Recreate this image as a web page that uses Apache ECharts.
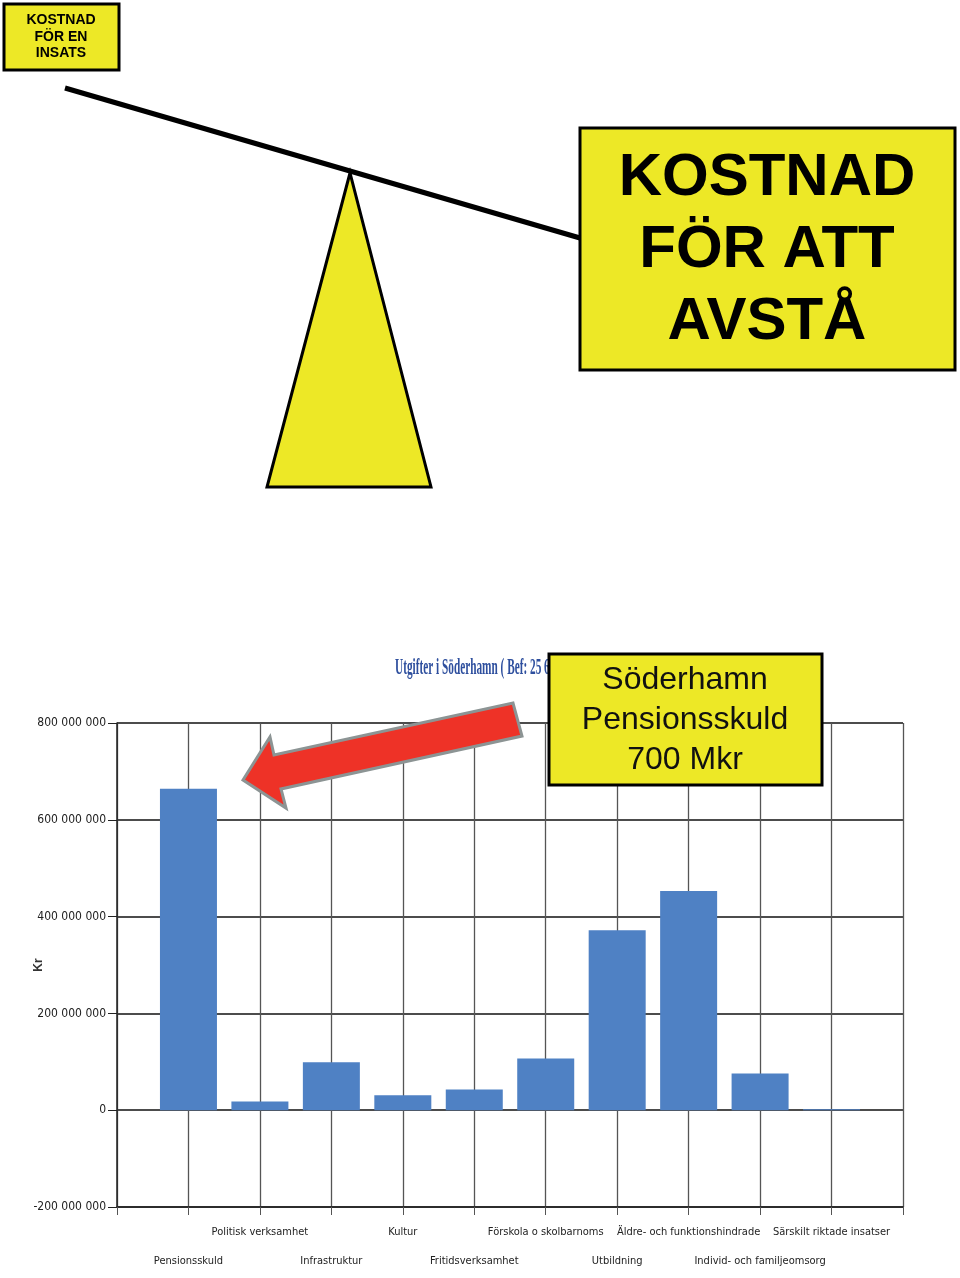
<!DOCTYPE html>
<html><head><meta charset="utf-8">
<script src="https://cdn.jsdelivr.net/npm/echarts@6/dist/echarts.min.js"></script>
<style>html,body{margin:0;padding:0;background:#fff}#c{width:960px;height:1278px}</style>
</head><body><div id="c"></div>
<script>
const categories = ['Pensionsskuld','Politisk verksamhet','Infrastruktur','Kultur','Fritidsverksamhet','Förskola o skolbarnoms','Utbildning','Äldre- och funktionshindrade','Individ- och familjeomsorg','Särskilt riktade insatser'];
const values = [664000000, 18000000, 99000000, 31000000, 43000000, 107000000, 372000000, 453000000, 76000000, 2000000];
const yTicks = { min: -200000000, max: 800000000, interval: 200000000 };
const chartTitle = 'Utgifter i Söderhamn ( Bef: 25 6';
const yName = 'Kr';

const xData = [''].concat(categories, ['']);
const yData = [null].concat(values, [null]);
const yellow = '#ede826';
const narrow = "'Liberation Sans Narrow','DejaVu Sans Condensed',sans-serif";

const chart = echarts.init(document.getElementById('c'));
chart.setOption({
  animation: false,
  backgroundColor: '#fff',
  grid: { left: 117, right: 57, top: 723, bottom: 71, containLabel: false },
  xAxis: {
    type: 'category', data: xData, boundaryGap: false,
    axisLine: { onZero: false, lineStyle: { color: '#222', width: 1.5 } },
    axisTick: { show: true, length: 8, lineStyle: { color: '#555' } },
    splitLine: { show: true, lineStyle: { color: '#555', width: 1.3 } },
    axisLabel: {
      interval: 0, margin: 11, color: '#222', fontSize: 11, fontFamily: narrow, lineHeight: 29,
      formatter: function (v, i) { return i % 2 === 1 ? '\n' + v : v; }
    }
  },
  yAxis: {
    type: 'value', min: yTicks.min, max: yTicks.max, interval: yTicks.interval,
    name: yName, nameLocation: 'middle', nameGap: 72, nameRotate: 90, nameMoveOverlap: false,
    nameTextStyle: { fontSize: 12, fontWeight: 'bold', color: '#333', fontFamily: 'Liberation Sans' },
    axisLine: { show: true, lineStyle: { color: '#222', width: 1.5 } },
    axisTick: { show: true, length: 9, lineStyle: { color: '#222' } },
    splitLine: { show: true, lineStyle: { color: '#111', width: 1.5 } },
    axisLabel: {
      margin: 11, color: '#222', fontSize: 12, fontFamily: narrow,
      formatter: function (v) { return String(v).replace(/\B(?=(\d{3})+(?!\d))/g, ' '); }
    }
  },
  series: [{
    type: 'bar', data: yData, barWidth: 57,
    itemStyle: { color: '#4f81c4' }
  }],
  graphic: [
    { type: 'text', x: 395, y: 668, scaleX: 0.47, z: 50,
      style: { text: chartTitle, fill: '#2e4f9e', font: "bold 24px 'Liberation Serif', serif", textVerticalAlign: 'middle' } },
    // seesaw
    { type: 'line', z: 60, shape: { x1: 65, y1: 88, x2: 580, y2: 238 }, style: { stroke: '#000', lineWidth: 5 } },
    { type: 'polygon', z: 61, shape: { points: [[350,173],[267,487],[431,487]] }, style: { fill: yellow, stroke: '#000', lineWidth: 3 } },
    // small box
    { type: 'rect', z: 62, shape: { x: 4, y: 4, width: 115, height: 66 }, style: { fill: yellow, stroke: '#000', lineWidth: 3 } },
    { type: 'text', z: 63, x: 61, y: 37,
      style: { text: 'KOSTNAD\nFÖR EN\nINSATS', fill: '#000', font: "bold 14px 'Liberation Sans', Arial, sans-serif", lineHeight: 16.5, textAlign: 'center', textVerticalAlign: 'middle' } },
    // big box
    { type: 'rect', z: 62, shape: { x: 580, y: 128, width: 375, height: 242 }, style: { fill: yellow, stroke: '#000', lineWidth: 3 } },
    { type: 'text', z: 63, x: 767, y: 250,
      style: { text: 'KOSTNAD\nFÖR ATT\nAVSTÅ', fill: '#000', font: "bold 60px 'Liberation Sans', Arial, sans-serif", lineHeight: 72, textAlign: 'center', textVerticalAlign: 'middle' } },
    // red arrow
    { type: 'polygon', z: 70, shape: { points: [[243,780],[270,737],[274,755],[513,703],[522,736],[281,789],[286,808]] },
      style: { fill: '#ee3227', stroke: '#8c9494', lineWidth: 3, lineJoin: 'miter' } },
    // pension box
    { type: 'rect', z: 72, shape: { x: 549, y: 654, width: 273, height: 131 }, style: { fill: yellow, stroke: '#000', lineWidth: 3 } },
    { type: 'text', z: 73, x: 685, y: 720,
      style: { text: 'Söderhamn\nPensionsskuld\n700 Mkr', fill: '#111', font: "32px 'Liberation Sans', Arial, sans-serif", lineHeight: 40, textAlign: 'center', textVerticalAlign: 'middle' } }
  ]
});
</script></body></html>
